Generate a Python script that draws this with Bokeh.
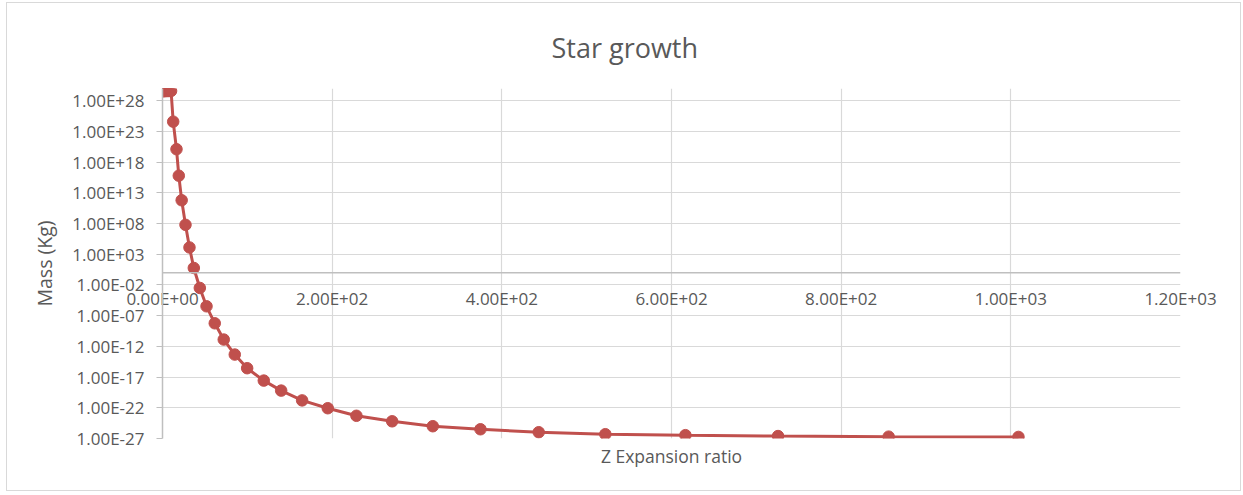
from bokeh.plotting import figure
from bokeh.models import Range1d, FixedTicker, CustomJSTickFormatter, Span, Title
from bokeh.embed import file_html
from bokeh.resources import INLINE

# ---- data ----
z_ratio = [1.0, 1.2, 1.4, 1.6, 1.9, 2.3, 2.7, 3.2, 3.8, 4.4, 5.2, 6.2, 7.3, 8.6, 10.1,
           12.6, 16.5, 19.2, 22.6, 27.1, 31.8, 36.9, 44.0, 51.9, 61.6, 72.2, 85.2,
           99.8, 119.4, 139.9, 164.6, 194.8, 228.6, 270.7, 318.6, 374.8, 443.5,
           522.0, 616.4, 725.6, 856.0, 1009.0]
mass_kg = [4.0e29, 4.0e29, 4.0e29, 4.0e29, 4.0e29, 4.0e29, 4.0e29, 4.0e29, 4.0e29,
           4.0e29, 4.0e29, 4.0e29, 4.0e29, 4.0e29, 4.0e29,
           4.0e24, 1.3e20, 6.3e15, 6.3e11, 6.3e7, 1.3e4, 5.9, 3.3e-3, 3.4e-6, 5.8e-9,
           1.3e-11, 4.7e-14, 2.8e-16, 2.7e-18, 6.3e-20, 1.6e-21, 8.5e-23, 5.0e-24,
           6.3e-25, 1.0e-25, 3.2e-26, 1.05e-26, 5.0e-27, 3.5e-27, 2.5e-27, 2.0e-27,
           1.8e-27]
x_ticks = [0, 200, 400, 600, 800, 1000, 1200]
y_ticks = [1e-27, 1e-22, 1e-17, 1e-12, 1e-7, 1e-2, 1e3, 1e8, 1e13, 1e18, 1e23, 1e28]
x_cross = 1  # the horizontal axis crosses the vertical axis at 1 (Excel default)

FONT = "Open Sans"
TEXT = "#595959"
GRID = "#D9D9D9"
AXIS = "#BFBFBF"
RED = "#C0504D"

p = figure(frame_width=1018, frame_height=350, y_axis_type="log",
           x_range=Range1d(0, 1200), y_range=Range1d(1e-27, 1e30),
           output_backend="svg", toolbar_location=None,
           min_border_left=155, min_border_right=60, min_border_top=85,
           min_border_bottom=52, title="Star growth")
p.styles = {"border": "1px solid #D9D9D9", "margin-left": "6px", "margin-top": "2px"}
p.outline_line_color = None
p.background_fill_color = "white"
p.border_fill_color = "white"

p.title.align = "left"
p.title.offset = 389
p.title.standoff = 46
p.title.text_font = FONT
p.title.text_font_size = "27px"
p.title.text_font_style = "normal"
p.title.text_color = TEXT

fmt = CustomJSTickFormatter(code=r"""
var s = tick.toExponential(2).toUpperCase();
return s.replace(/E([+-])(\d)$/, 'E$10$2');
""")

# horizontal axis: its line sits at y = 1, its labels are lifted up beside it
p.add_layout(Span(location=x_cross, dimension="width", line_color=AXIS, line_width=1.5))
xa = p.xaxis[0]
xa.ticker = FixedTicker(ticks=x_ticks)
xa.formatter = fmt
xa.major_tick_in = 0
xa.major_tick_out = 0
xa.minor_tick_line_color = None
xa.axis_line_color = None
xa.major_label_standoff = -152
xa.major_label_text_font = FONT
xa.major_label_text_font_size = "17px"
xa.major_label_text_color = TEXT

ya = p.yaxis[0]
ya.ticker = FixedTicker(ticks=y_ticks)
ya.formatter = fmt
ya.major_tick_in = 0
ya.major_tick_out = 6
ya.major_tick_line_color = AXIS
ya.minor_tick_line_color = None
ya.axis_line_color = AXIS
ya.axis_line_width = 1.5
ya.major_label_standoff = 12
ya.major_label_text_font = FONT
ya.major_label_text_font_size = "17px"
ya.major_label_text_color = TEXT
ya.axis_label = "Mass (Kg)"
ya.axis_label_text_font = FONT
ya.axis_label_text_font_size = "19.5px"
ya.axis_label_text_font_style = "normal"
ya.axis_label_text_color = TEXT
ya.axis_label_standoff = 11

p.xgrid.ticker = FixedTicker(ticks=x_ticks)
p.ygrid.ticker = FixedTicker(ticks=y_ticks)
p.grid.grid_line_color = GRID
p.grid.grid_line_width = 1.2
p.grid.minor_grid_line_color = None

p.line(z_ratio, mass_kg, line_color=RED, line_width=3)
p.scatter(z_ratio, mass_kg, size=11.5, fill_color=RED, line_color=RED)

# horizontal axis title
xt = Title(text="Z Expansion ratio", align="center", text_font=FONT,
           text_font_size="17.5px", text_font_style="normal", text_color=TEXT,
           standoff=7)
p.add_layout(xt, "below")

open("out.html", "w").write(file_html(p, INLINE))
